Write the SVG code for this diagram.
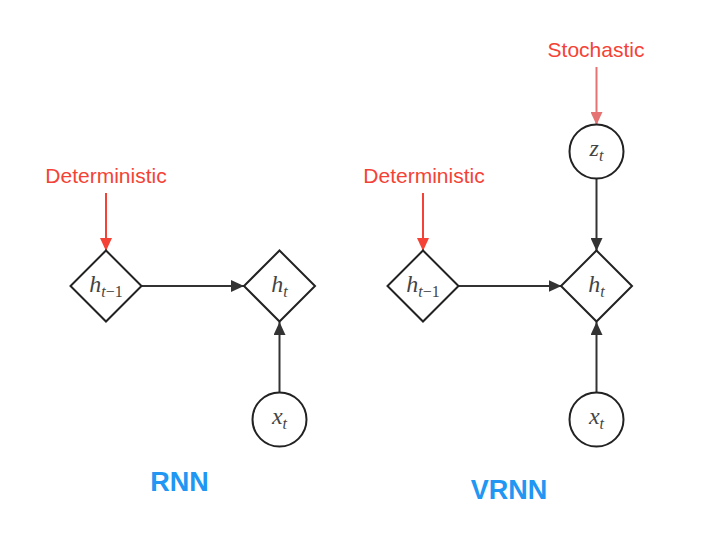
<svg xmlns="http://www.w3.org/2000/svg" width="702" height="551" viewBox="0 0 702 551">
<style>
.shape{fill:#fff;stroke:#222;stroke-width:2}
.edge{stroke:#333;stroke-width:2;fill:none}
.red{stroke:#f44336;stroke-width:2;fill:none}
.pink{stroke:#e57373;stroke-width:2;fill:none}
.math{font-family:"Liberation Serif","DejaVu Serif",serif;font-style:italic;font-size:24px;fill:#444}
.sub{font-size:16px}
.up{font-style:normal}
.note{font-family:"Liberation Sans",Arial,sans-serif;font-size:21px;fill:#f44336}
.title{font-family:"Liberation Sans",Arial,sans-serif;font-weight:bold;font-size:27px;fill:#2196f3}
</style>
<defs>
<marker id="ak" markerUnits="userSpaceOnUse" markerWidth="14" markerHeight="12" refX="13" refY="6" orient="auto"><path d="M0,0 L13,6 L0,12 Z" fill="#333"/></marker>
<marker id="ar" markerUnits="userSpaceOnUse" markerWidth="14" markerHeight="12" refX="13" refY="6" orient="auto"><path d="M0,0 L13,6 L0,12 Z" fill="#f44336"/></marker>
<marker id="ap" markerUnits="userSpaceOnUse" markerWidth="14" markerHeight="12" refX="13" refY="6" orient="auto"><path d="M0,0 L13,6 L0,12 Z" fill="#e57373"/></marker>
</defs>
<g id="connectors">
<line class="edge" x1="141.5" y1="286" x2="244" y2="286" marker-end="url(#ak)"/>
<line class="edge" x1="279.5" y1="392.5" x2="279.5" y2="322" marker-end="url(#ak)"/>
<line class="red" x1="106" y1="193" x2="106" y2="251" marker-end="url(#ar)"/>
<line class="edge" x1="458.5" y1="286" x2="561.5" y2="286" marker-end="url(#ak)"/>
<line class="edge" x1="596.5" y1="178.5" x2="596.5" y2="251" marker-end="url(#ak)"/>
<line class="edge" x1="596.5" y1="392.5" x2="596.5" y2="322" marker-end="url(#ak)"/>
<line class="red" x1="423" y1="193" x2="423" y2="251" marker-end="url(#ar)"/>
<line class="pink" x1="596.5" y1="67" x2="596.5" y2="125" marker-end="url(#ap)"/>
</g>
<g id="rnn-hprev">
<polygon class="shape" points="106,250.5 141.5,286 106,321.5 70.5,286"/>
<text class="math" x="106" y="292" text-anchor="middle">h<tspan class="sub" dy="5">t</tspan><tspan class="sub up">−1</tspan></text>
</g>
<g id="rnn-ht">
<polygon class="shape" points="279.5,250.5 315,286 279.5,321.5 244,286"/>
<text class="math" x="279.5" y="292" text-anchor="middle">h<tspan class="sub" dy="5">t</tspan></text>
</g>
<g id="rnn-xt">
<circle class="shape" cx="279.5" cy="419.5" r="27"/>
<text class="math" x="279.5" y="424" text-anchor="middle">x<tspan class="sub" dy="5">t</tspan></text>
</g>
<g id="rnn-det">
<text class="note" x="106" y="183" text-anchor="middle">Deterministic</text>
</g>
<g id="rnn-title">
<text class="title" x="179.5" y="491" text-anchor="middle">RNN</text>
</g>
<g id="vrnn-hprev">
<polygon class="shape" points="423,250.5 458.5,286 423,321.5 387.5,286"/>
<text class="math" x="423" y="292" text-anchor="middle">h<tspan class="sub" dy="5">t</tspan><tspan class="sub up">−1</tspan></text>
</g>
<g id="vrnn-ht">
<polygon class="shape" points="596.5,250.5 632,286 596.5,321.5 561,286"/>
<text class="math" x="596.5" y="292" text-anchor="middle">h<tspan class="sub" dy="5">t</tspan></text>
</g>
<g id="vrnn-zt">
<circle class="shape" cx="596.5" cy="151.5" r="27"/>
<text class="math" x="596.5" y="156" text-anchor="middle">z<tspan class="sub" dy="5">t</tspan></text>
</g>
<g id="vrnn-xt">
<circle class="shape" cx="596.5" cy="419.5" r="27"/>
<text class="math" x="596.5" y="424" text-anchor="middle">x<tspan class="sub" dy="5">t</tspan></text>
</g>
<g id="vrnn-det">
<text class="note" x="424" y="182.5" text-anchor="middle">Deterministic</text>
</g>
<g id="vrnn-sto">
<text class="note" x="596" y="56.5" text-anchor="middle">Stochastic</text>
</g>
<g id="vrnn-title">
<text class="title" x="509" y="499" text-anchor="middle">VRNN</text>
</g>
</svg>
